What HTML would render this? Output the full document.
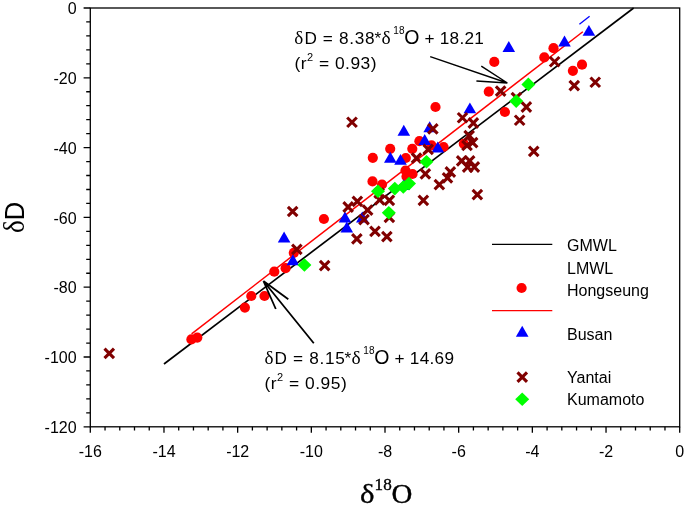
<!DOCTYPE html>
<html><head><meta charset="utf-8"><style>html,body{margin:0;padding:0;background:#fff;}svg{display:block;will-change:transform;}text{font-family:"Liberation Sans",sans-serif;}.serif{font-family:"Liberation Serif",serif;}</style></head><body>
<svg width="685" height="511" viewBox="0 0 685 511">
<rect x="0" y="0" width="685" height="511" fill="#fff"/>
<path d="M83.60 8.00H90.30M86.20 21.96H90.30M86.20 35.92H90.30M86.20 49.88H90.30M86.20 63.84H90.30M83.60 77.80H90.30M86.20 91.76H90.30M86.20 105.72H90.30M86.20 119.68H90.30M86.20 133.64H90.30M83.60 147.60H90.30M86.20 161.56H90.30M86.20 175.52H90.30M86.20 189.48H90.30M86.20 203.44H90.30M83.60 217.40H90.30M86.20 231.36H90.30M86.20 245.32H90.30M86.20 259.28H90.30M86.20 273.24H90.30M83.60 287.20H90.30M86.20 301.16H90.30M86.20 315.12H90.30M86.20 329.08H90.30M86.20 343.04H90.30M83.60 357.00H90.30M86.20 370.96H90.30M86.20 384.92H90.30M86.20 398.88H90.30M86.20 412.84H90.30M83.60 426.80H90.30M90.30 426.80V432.80M105.04 426.80V430.60M119.77 426.80V430.60M134.50 426.80V430.60M149.24 426.80V430.60M163.98 426.80V432.80M178.71 426.80V430.60M193.45 426.80V430.60M208.18 426.80V430.60M222.92 426.80V430.60M237.65 426.80V432.80M252.39 426.80V430.60M267.12 426.80V430.60M281.86 426.80V430.60M296.59 426.80V430.60M311.33 426.80V432.80M326.06 426.80V430.60M340.80 426.80V430.60M355.53 426.80V430.60M370.27 426.80V430.60M385.00 426.80V432.80M399.74 426.80V430.60M414.47 426.80V430.60M429.21 426.80V430.60M443.94 426.80V430.60M458.68 426.80V432.80M473.41 426.80V430.60M488.15 426.80V430.60M502.88 426.80V430.60M517.62 426.80V430.60M532.35 426.80V432.80M547.09 426.80V430.60M561.82 426.80V430.60M576.56 426.80V430.60M591.29 426.80V430.60M606.03 426.80V432.80M620.76 426.80V430.60M635.50 426.80V430.60M650.23 426.80V430.60M664.97 426.80V430.60M679.70 426.80V432.80" stroke="#000" stroke-width="1.3" fill="none"/>
<line x1="163.98" y1="363.98" x2="633.65" y2="8.00" stroke="#000" stroke-width="1.7"/>
<line x1="191.60" y1="333.81" x2="582.82" y2="31.74" stroke="#ff0000" stroke-width="1.5"/>
<line x1="579.40" y1="24.30" x2="589.60" y2="16.20" stroke="#0000ff" stroke-width="1.3"/>
<circle cx="191.4" cy="339.4" r="5.1" fill="#ff0000"/>
<circle cx="197.3" cy="337.6" r="5.1" fill="#ff0000"/>
<circle cx="244.9" cy="307.6" r="5.1" fill="#ff0000"/>
<circle cx="251.3" cy="296.0" r="5.1" fill="#ff0000"/>
<circle cx="264.5" cy="296.0" r="5.1" fill="#ff0000"/>
<circle cx="274.3" cy="271.7" r="5.1" fill="#ff0000"/>
<circle cx="285.6" cy="268.2" r="5.1" fill="#ff0000"/>
<circle cx="293.8" cy="252.8" r="5.1" fill="#ff0000"/>
<circle cx="323.9" cy="219.0" r="5.1" fill="#ff0000"/>
<circle cx="372.5" cy="181.4" r="5.1" fill="#ff0000"/>
<circle cx="382.0" cy="184.5" r="5.1" fill="#ff0000"/>
<circle cx="372.8" cy="157.8" r="5.1" fill="#ff0000"/>
<circle cx="390.2" cy="148.8" r="5.1" fill="#ff0000"/>
<circle cx="405.8" cy="158.0" r="5.1" fill="#ff0000"/>
<circle cx="405.5" cy="170.5" r="5.1" fill="#ff0000"/>
<circle cx="412.5" cy="174.0" r="5.1" fill="#ff0000"/>
<circle cx="406.5" cy="176.5" r="5.1" fill="#ff0000"/>
<circle cx="412.3" cy="148.8" r="5.1" fill="#ff0000"/>
<circle cx="419.4" cy="141.2" r="5.1" fill="#ff0000"/>
<circle cx="431.5" cy="145.3" r="5.1" fill="#ff0000"/>
<circle cx="443.6" cy="147.0" r="5.1" fill="#ff0000"/>
<circle cx="435.5" cy="107.0" r="5.1" fill="#ff0000"/>
<circle cx="463.8" cy="143.8" r="5.1" fill="#ff0000"/>
<circle cx="494.3" cy="61.9" r="5.1" fill="#ff0000"/>
<circle cx="488.8" cy="91.7" r="5.1" fill="#ff0000"/>
<circle cx="504.9" cy="112.0" r="5.1" fill="#ff0000"/>
<circle cx="544.3" cy="57.4" r="5.1" fill="#ff0000"/>
<circle cx="553.5" cy="48.2" r="5.1" fill="#ff0000"/>
<circle cx="572.9" cy="70.8" r="5.1" fill="#ff0000"/>
<circle cx="582.0" cy="64.7" r="5.1" fill="#ff0000"/>
<path d="M284.10 231.55L290.40 242.45H277.80Z" fill="#0000ff"/>
<path d="M292.90 254.25L299.20 265.15H286.60Z" fill="#0000ff"/>
<path d="M345.00 211.55L351.30 222.45H338.70Z" fill="#0000ff"/>
<path d="M346.80 221.55L353.10 232.45H340.50Z" fill="#0000ff"/>
<path d="M362.30 211.55L368.60 222.45H356.00Z" fill="#0000ff"/>
<path d="M390.30 151.85L396.60 162.75H384.00Z" fill="#0000ff"/>
<path d="M400.50 153.95L406.80 164.85H394.20Z" fill="#0000ff"/>
<path d="M403.80 124.85L410.10 135.75H397.50Z" fill="#0000ff"/>
<path d="M424.70 134.05L431.00 144.95H418.40Z" fill="#0000ff"/>
<path d="M429.70 121.25L436.00 132.15H423.40Z" fill="#0000ff"/>
<path d="M437.80 141.55L444.10 152.45H431.50Z" fill="#0000ff"/>
<path d="M469.90 102.45L476.20 113.35H463.60Z" fill="#0000ff"/>
<path d="M508.80 41.05L515.10 51.95H502.50Z" fill="#0000ff"/>
<path d="M564.50 35.55L570.80 46.45H558.20Z" fill="#0000ff"/>
<path d="M588.90 24.95L595.20 35.85H582.60Z" fill="#0000ff"/>
<path d="M403.70 179.15L410.00 190.05H397.40Z" fill="#0000ff"/>
<path d="M104.5 348.6L114.0 358.1M114.0 348.6L104.5 358.1" stroke="#800000" stroke-width="3.1" fill="none"/>
<path d="M287.9 206.8L297.4 216.2M297.4 206.8L287.9 216.2" stroke="#800000" stroke-width="3.1" fill="none"/>
<path d="M292.1 244.7L301.6 254.2M301.6 244.7L292.1 254.2" stroke="#800000" stroke-width="3.1" fill="none"/>
<path d="M319.9 260.9L329.4 270.4M329.4 260.9L319.9 270.4" stroke="#800000" stroke-width="3.1" fill="none"/>
<path d="M343.4 202.2L352.9 211.8M352.9 202.2L343.4 211.8" stroke="#800000" stroke-width="3.1" fill="none"/>
<path d="M352.6 196.6L362.1 206.1M362.1 196.6L352.6 206.1" stroke="#800000" stroke-width="3.1" fill="none"/>
<path d="M362.9 205.4L372.4 214.9M372.4 205.4L362.9 214.9" stroke="#800000" stroke-width="3.1" fill="none"/>
<path d="M359.2 214.8L368.8 224.3M368.8 214.8L359.2 224.3" stroke="#800000" stroke-width="3.1" fill="none"/>
<path d="M370.2 226.6L379.8 236.1M379.8 226.6L370.2 236.1" stroke="#800000" stroke-width="3.1" fill="none"/>
<path d="M352.1 234.1L361.6 243.6M361.6 234.1L352.1 243.6" stroke="#800000" stroke-width="3.1" fill="none"/>
<path d="M382.1 231.8L391.6 241.3M391.6 231.8L382.1 241.3" stroke="#800000" stroke-width="3.1" fill="none"/>
<path d="M374.9 195.1L384.4 204.6M384.4 195.1L374.9 204.6" stroke="#800000" stroke-width="3.1" fill="none"/>
<path d="M384.6 195.6L394.1 205.1M394.1 195.6L384.6 205.1" stroke="#800000" stroke-width="3.1" fill="none"/>
<path d="M384.6 212.7L394.1 222.2M394.1 212.7L384.6 222.2" stroke="#800000" stroke-width="3.1" fill="none"/>
<path d="M347.2 117.5L356.8 127.0M356.8 117.5L347.2 127.0" stroke="#800000" stroke-width="3.1" fill="none"/>
<path d="M418.6 195.6L428.1 205.1M428.1 195.6L418.6 205.1" stroke="#800000" stroke-width="3.1" fill="none"/>
<path d="M420.6 169.1L430.1 178.6M430.1 169.1L420.6 178.6" stroke="#800000" stroke-width="3.1" fill="none"/>
<path d="M411.8 153.4L421.2 162.9M421.2 153.4L411.8 162.9" stroke="#800000" stroke-width="3.1" fill="none"/>
<path d="M423.4 144.7L432.9 154.2M432.9 144.7L423.4 154.2" stroke="#800000" stroke-width="3.1" fill="none"/>
<path d="M428.1 124.1L437.6 133.6M437.6 124.1L428.1 133.6" stroke="#800000" stroke-width="3.1" fill="none"/>
<path d="M434.6 179.8L444.1 189.3M444.1 179.8L434.6 189.3" stroke="#800000" stroke-width="3.1" fill="none"/>
<path d="M442.8 173.1L452.2 182.6M452.2 173.1L442.8 182.6" stroke="#800000" stroke-width="3.1" fill="none"/>
<path d="M445.6 167.2L455.1 176.8M455.1 167.2L445.6 176.8" stroke="#800000" stroke-width="3.1" fill="none"/>
<path d="M472.6 189.9L482.1 199.4M482.1 189.9L472.6 199.4" stroke="#800000" stroke-width="3.1" fill="none"/>
<path d="M457.8 113.0L467.2 122.5M467.2 113.0L457.8 122.5" stroke="#800000" stroke-width="3.1" fill="none"/>
<path d="M468.6 118.2L478.1 127.8M478.1 118.2L468.6 127.8" stroke="#800000" stroke-width="3.1" fill="none"/>
<path d="M464.4 130.8L473.9 140.3M473.9 130.8L464.4 140.3" stroke="#800000" stroke-width="3.1" fill="none"/>
<path d="M467.9 137.8L477.4 147.3M477.4 137.8L467.9 147.3" stroke="#800000" stroke-width="3.1" fill="none"/>
<path d="M462.2 140.8L471.8 150.2M471.8 140.8L462.2 150.2" stroke="#800000" stroke-width="3.1" fill="none"/>
<path d="M456.9 156.2L466.4 165.7M466.4 156.2L456.9 165.7" stroke="#800000" stroke-width="3.1" fill="none"/>
<path d="M464.9 156.2L474.4 165.7M474.4 156.2L464.9 165.7" stroke="#800000" stroke-width="3.1" fill="none"/>
<path d="M462.9 162.2L472.4 171.8M472.4 162.2L462.9 171.8" stroke="#800000" stroke-width="3.1" fill="none"/>
<path d="M469.6 162.2L479.1 171.8M479.1 162.2L469.6 171.8" stroke="#800000" stroke-width="3.1" fill="none"/>
<path d="M495.9 86.3L505.4 95.8M505.4 86.3L495.9 95.8" stroke="#800000" stroke-width="3.1" fill="none"/>
<path d="M511.6 92.8L521.1 102.2M521.1 92.8L511.6 102.2" stroke="#800000" stroke-width="3.1" fill="none"/>
<path d="M521.6 102.2L531.1 111.8M531.1 102.2L521.6 111.8" stroke="#800000" stroke-width="3.1" fill="none"/>
<path d="M514.9 115.5L524.4 125.0M524.4 115.5L514.9 125.0" stroke="#800000" stroke-width="3.1" fill="none"/>
<path d="M529.0 146.7L538.5 156.2M538.5 146.7L529.0 156.2" stroke="#800000" stroke-width="3.1" fill="none"/>
<path d="M549.9 57.0L559.4 66.5M559.4 57.0L549.9 66.5" stroke="#800000" stroke-width="3.1" fill="none"/>
<path d="M569.5 80.8L579.0 90.3M579.0 80.8L569.5 90.3" stroke="#800000" stroke-width="3.1" fill="none"/>
<path d="M590.5 77.5L600.0 87.0M600.0 77.5L590.5 87.0" stroke="#800000" stroke-width="3.1" fill="none"/>
<path d="M374.4 188.4L383.9 197.9M383.9 188.4L374.4 197.9" stroke="#800000" stroke-width="3.1" fill="none"/>
<path d="M378.0 184.5L385.0 191.3L378.0 198.1L371.0 191.3Z" fill="#00ff00"/>
<path d="M394.8 181.8L401.8 188.6L394.8 195.4L387.8 188.6Z" fill="#00ff00"/>
<path d="M403.3 180.2L410.3 187.0L403.3 193.8L396.3 187.0Z" fill="#00ff00"/>
<path d="M409.0 176.8L416.0 183.6L409.0 190.4L402.0 183.6Z" fill="#00ff00"/>
<path d="M426.5 155.0L433.5 161.8L426.5 168.6L419.5 161.8Z" fill="#00ff00"/>
<path d="M388.8 206.0L395.8 212.8L388.8 219.6L381.8 212.8Z" fill="#00ff00"/>
<path d="M516.2 94.3L523.2 101.1L516.2 107.9L509.2 101.1Z" fill="#00ff00"/>
<path d="M528.4 77.6L535.4 84.4L528.4 91.2L521.4 84.4Z" fill="#00ff00"/>
<path d="M304.4 258.2L311.4 265.0L304.4 271.8L297.4 265.0Z" fill="#00ff00"/>
<rect x="90.30" y="8.00" width="589.40" height="418.80" fill="none" stroke="#000" stroke-width="1.3"/>
<text x="76.6" y="14.2" font-size="16" text-anchor="end">0</text>
<text x="76.6" y="84.0" font-size="16" text-anchor="end">-20</text>
<text x="76.6" y="153.8" font-size="16" text-anchor="end">-40</text>
<text x="76.6" y="223.6" font-size="16" text-anchor="end">-60</text>
<text x="76.6" y="293.4" font-size="16" text-anchor="end">-80</text>
<text x="76.6" y="363.2" font-size="16" text-anchor="end">-100</text>
<text x="76.6" y="433.0" font-size="16" text-anchor="end">-120</text>
<text x="90.3" y="456.6" font-size="16" text-anchor="middle">-16</text>
<text x="164.0" y="456.6" font-size="16" text-anchor="middle">-14</text>
<text x="237.7" y="456.6" font-size="16" text-anchor="middle">-12</text>
<text x="311.3" y="456.6" font-size="16" text-anchor="middle">-10</text>
<text x="385.0" y="456.6" font-size="16" text-anchor="middle">-8</text>
<text x="458.7" y="456.6" font-size="16" text-anchor="middle">-6</text>
<text x="532.4" y="456.6" font-size="16" text-anchor="middle">-4</text>
<text x="606.0" y="456.6" font-size="16" text-anchor="middle">-2</text>
<text x="679.7" y="456.6" font-size="16" text-anchor="middle">0</text>
<g stroke="#000" stroke-width="0.35">
<text class="serif" x="0" y="0" font-size="27.5" transform="translate(359.9 503.1) scale(1.12 1)">&#948;</text>
<text class="serif" x="0" y="0" font-size="16" transform="translate(374.6 490.4) scale(1.07 1)">18</text>
<text class="serif" x="0" y="0" font-size="26.5" transform="translate(391.4 502.9) scale(1.09 1)">O</text>
</g>
<text x="0" y="0" font-size="25.5" text-anchor="middle" transform="translate(24.2 217.4) rotate(-90) scale(1 1.07)"><tspan class="serif" font-size="27">&#948;</tspan>D</text>
<text x="294.4" y="43.9" font-size="17.2" letter-spacing="0.5"><tspan class="serif" font-size="19.2" dx="-0.1">&#948;</tspan><tspan dx="0.6">D</tspan><tspan letter-spacing="0.7"> = 8.38</tspan><tspan dx="-0.8">*</tspan><tspan class="serif" font-size="19.5" dx="-0.3">&#948;</tspan><tspan dy="-9.8" dx="2" font-size="10" letter-spacing="0.2">18</tspan><tspan dy="9.8" dx="-0.5" font-size="19.5">O</tspan><tspan dx="-0.6"> +</tspan><tspan letter-spacing="0.3" dx="-0.4"> 18.21</tspan></text>
<text x="294.4" y="68.8" font-size="17.4" letter-spacing="0.5">(r<tspan dy="-8" font-size="11">2</tspan><tspan dy="8"> = 0.93)</tspan></text>
<text x="264.5" y="364.0" font-size="17.2" letter-spacing="0.5"><tspan class="serif" font-size="19.2" dx="-0.1">&#948;</tspan><tspan dx="0.6">D</tspan><tspan letter-spacing="0.7"> = 8.15</tspan><tspan dx="-0.8">*</tspan><tspan class="serif" font-size="19.5" dx="-0.3">&#948;</tspan><tspan dy="-9.8" dx="2" font-size="10" letter-spacing="0.2">18</tspan><tspan dy="9.8" dx="-0.5" font-size="19.5">O</tspan><tspan dx="-0.6"> +</tspan><tspan letter-spacing="0.3" dx="-0.4"> 14.69</tspan></text>
<text x="264.5" y="389.0" font-size="17.4" letter-spacing="0.5">(r<tspan dy="-8" font-size="11">2</tspan><tspan dy="8"> = 0.95)</tspan></text>
<path d="M430.2 56.6L507.4 83.0M481.3 66.1L507.4 83.0M476.4 81.0L507.4 83.0" stroke="#000" stroke-width="1.45" fill="none"/>
<path d="M313.8 343.2L263.4 281.0M288.3 299.3L263.4 281.0M275.8 309.0L263.4 281.0" stroke="#000" stroke-width="1.8" fill="none"/>
<line x1="492.00" y1="244.30" x2="552.30" y2="244.30" stroke="#000" stroke-width="1.3"/>
<line x1="492.00" y1="310.60" x2="552.30" y2="310.60" stroke="#ff0000" stroke-width="1.3"/>
<circle cx="521.6" cy="288.0" r="5.1" fill="#ff0000"/>
<path d="M522.20 325.85L528.50 336.75H515.90Z" fill="#0000ff"/>
<path d="M517.5 372.4L527.0 381.9M527.0 372.4L517.5 381.9" stroke="#800000" stroke-width="3.1" fill="none"/>
<path d="M522.2 392.5L529.2 399.3L522.2 406.1L515.2 399.3Z" fill="#00ff00"/>
<text x="567.0" y="251.0" font-size="16">GMWL</text>
<text x="567.0" y="273.6" font-size="16">LMWL</text>
<text x="567.0" y="295.6" font-size="16">Hongseung</text>
<text x="567.0" y="339.9" font-size="16">Busan</text>
<text x="567.0" y="383.3" font-size="16">Yantai</text>
<text x="567.0" y="405.0" font-size="16">Kumamoto</text>
</svg></body></html>
